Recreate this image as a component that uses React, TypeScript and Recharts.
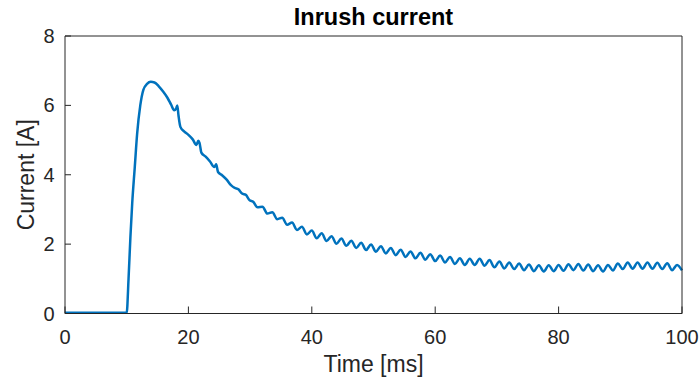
import React from "react";
import { LineChart, Line, XAxis, YAxis } from "recharts";

// time axis in ms (dense where the curve turns, then one point per ripple half-wave)
const timeMs = [
  0, 2, 4, 6, 8, 10.0, 10.3, 10.6, 10.9, 11.3,
  11.7, 12.2, 12.7, 13.3, 13.9, 14.5, 15.2, 15.9, 16.6, 17.2,
  17.7, 18.0, 18.2, 18.4, 18.7, 19.3, 20.0, 20.7, 21.3, 21.6,
  21.8, 22.1, 22.8, 23.5, 24.2, 24.5, 24.8, 25.5, 26.2, 26.9,
  27.5, 28.1, 28.7, 29.3, 29.9, 30.5, 31.2,
  32.0, 32.8, 33.6, 34.4, 35.2, 36.0, 36.8, 37.6, 38.4, 39.2,
  40.0, 40.8, 41.6, 42.4, 43.2, 44.0, 44.8, 45.6, 46.4, 47.2,
  48.0, 48.8, 49.6, 50.4, 51.2, 52.0, 52.8, 53.6, 54.4, 55.2,
  56.0, 56.8, 57.6, 58.4, 59.2, 60.0, 60.8, 61.6, 62.4, 63.2,
  64.0, 64.8, 65.6, 66.4, 67.2, 68.0, 68.8, 69.6, 70.4, 71.2,
  72.0, 72.8, 73.6, 74.4, 75.2, 76.0, 76.8, 77.6, 78.4, 79.2,
  80.0, 80.8, 81.6, 82.4, 83.2, 84.0, 84.8, 85.6, 86.4, 87.2,
  88.0, 88.8, 89.6, 90.4, 91.2, 92.0, 92.8, 93.6, 94.4, 95.2,
  96.0, 96.8, 97.6, 98.4, 99.2, 100.0,
];

// current in A, same order as timeMs
const currentA = [
  0.02, 0.02, 0.02, 0.02, 0.02, 0.02, 1.0, 2.2, 3.2, 4.2,
  5.2, 6.0, 6.45, 6.62, 6.68, 6.66, 6.55, 6.4, 6.22, 6.02,
  5.86, 5.9, 6.0, 5.7, 5.38, 5.25, 5.15, 5.02, 4.86, 4.98,
  4.92, 4.64, 4.52, 4.38, 4.22, 4.3, 4.08, 3.98, 3.86, 3.7,
  3.62, 3.58, 3.46, 3.42, 3.27, 3.22, 3.06,
  3.08, 2.88, 2.92, 2.72, 2.76, 2.56, 2.62, 2.41, 2.5, 2.28,
  2.39, 2.17, 2.31, 2.09, 2.23, 2.01, 2.16, 1.95, 2.1, 1.89,
  2.04, 1.83, 1.99, 1.78, 1.94, 1.73, 1.89, 1.68, 1.84, 1.63,
  1.79, 1.59, 1.75, 1.55, 1.71, 1.51, 1.67, 1.47, 1.63, 1.43,
  1.59, 1.4, 1.58, 1.4, 1.58, 1.38, 1.54, 1.33, 1.5, 1.3,
  1.47, 1.28, 1.44, 1.25, 1.41, 1.22, 1.39, 1.21, 1.39, 1.22,
  1.4, 1.23, 1.42, 1.25, 1.43, 1.24, 1.41, 1.22, 1.39, 1.21,
  1.4, 1.24, 1.44, 1.28, 1.47, 1.29, 1.47, 1.29, 1.47, 1.29,
  1.46, 1.28, 1.45, 1.25, 1.4, 1.24,
];

const xTicks = [0, 20, 40, 60, 80, 100];
const yTicks = [0, 2, 4, 6, 8];

const data = timeMs.map((t, k) => ({ t, i: currentA[k] }));

const FONT = "'Liberation Sans', Arial, Helvetica, sans-serif";
const AXIS = "#262626";

const App = () => {
  return (
    <div style={{ position: "absolute", left: 0, top: 0, background: "#fff" }}>
      <LineChart
        width={700}
        height={380}
        data={data}
        margin={{ top: 35, right: 17, left: 0, bottom: 0 }}
        style={{ fontFamily: FONT }}
      >
        {/* top edge of the box, carries the title */}
        <XAxis
          xAxisId="top"
          orientation="top"
          dataKey="t"
          type="number"
          domain={[0, 100]}
          ticks={xTicks}
          interval={0}
          height={1}
          tick={false}
          tickSize={-7}
          stroke={AXIS}
          label={{
            value: "Inrush current",
            position: "top",
            offset: 10,
            fill: "#000",
            fontSize: 23.5,
            fontWeight: "bold",
          }}
        />
        <XAxis
          dataKey="t"
          type="number"
          domain={[0, 100]}
          ticks={xTicks}
          interval={0}
          height={66.5}
          tickSize={-7}
          tickMargin={23.5}
          stroke={AXIS}
          tick={{ fill: AXIS, fontSize: 20 }}
          label={{
            value: "Time [ms]",
            position: "insideBottom",
            offset: 8,
            fill: AXIS,
            fontSize: 23,
          }}
        />
        <YAxis
          domain={[0, 8]}
          ticks={yTicks}
          interval={0}
          width={65}
          tickSize={-6}
          tickMargin={16.5}
          stroke={AXIS}
          tick={{ fill: AXIS, fontSize: 20 }}
          label={{
            value: "Current [A]",
            angle: -90,
            position: "insideLeft",
            offset: 26,
            fill: AXIS,
            fontSize: 23,
            style: { textAnchor: "middle" },
          }}
        />
        <YAxis
          yAxisId="right"
          orientation="right"
          domain={[0, 8]}
          ticks={yTicks}
          interval={0}
          width={1}
          tick={false}
          tickSize={-6}
          stroke={AXIS}
        />
        <Line
          type="monotone"
          dataKey="i"
          stroke="#0072BD"
          strokeWidth={2.5}
          dot={false}
          isAnimationActive={false}
        />
      </LineChart>
    </div>
  );
};

export default App;
